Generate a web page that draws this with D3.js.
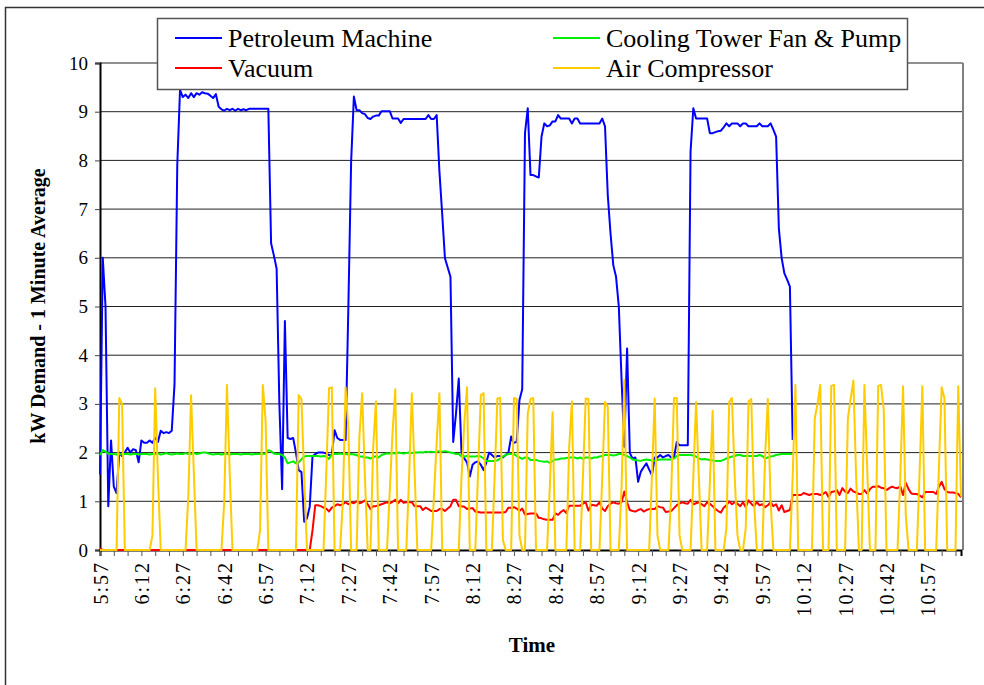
<!DOCTYPE html>
<html>
<head>
<meta charset="utf-8">
<script src="https://cdn.jsdelivr.net/npm/d3@7"></script>
<style>
body{margin:0;background:#fff}
svg{display:block}
</style>
</head>
<body>
<svg id="chart" width="984" height="685"></svg>
<script>
// x tick labels, one every 15 minutes (every 15th sample)
const tickLabels = ["5:57","6:12","6:27","6:42","6:57","7:12","7:27","7:42","7:57","8:12","8:27",
  "8:42","8:57","9:12","9:27","9:42","9:57","10:12","10:27","10:42","10:57"]
const yTicks = [0,1,2,3,4,5,6,7,8,9,10]

// one value per minute from 5:57
const petroleum = [
  1.55,6.0,5.0,0.9,2.25,1.3,1.17,2.0,1.93,2.0,
  2.1,2.0,2.07,2.05,1.8,2.25,2.2,2.2,2.25,2.2,
  2.3,2.22,2.45,2.4,2.42,2.4,2.45,3.4,7.9,9.45,
  9.3,9.35,9.28,9.38,9.3,9.38,9.35,9.4,9.38,9.37,
  9.33,9.28,9.36,9.1,9.05,9.02,9.06,9.03,9.06,9.02,
  9.06,9.03,9.05,9.03,9.06,9.06,9.06,9.06,9.06,9.06,
  9.06,9.06,6.3,6.05,5.78,3.0,1.25,4.7,2.3,2.28,
  2.3,2.0,1.64,1.6,0.58,0.65,0.89,1.92,1.97,2.0,
  2.0,2.0,1.98,1.95,1.95,2.46,2.3,2.26,2.26,2.26,
  5.0,7.97,9.31,9.03,9.03,8.97,8.95,8.87,8.85,8.9,
  8.92,8.92,9.01,9.01,9.01,9.01,8.86,8.86,8.86,8.77,
  8.85,8.85,8.85,8.85,8.85,8.85,8.85,8.85,8.85,8.93,
  8.85,8.85,8.93,7.77,6.9,5.99,5.8,5.61,2.22,2.8,
  3.52,2.0,1.88,1.8,1.51,1.75,1.8,1.82,1.75,1.64,
  1.8,2.0,1.95,1.9,1.93,1.93,1.9,1.95,2.0,2.33,
  2.2,2.22,3.08,3.3,8.56,9.07,7.7,7.7,7.67,7.65,
  8.49,8.76,8.7,8.72,8.8,8.8,8.93,8.86,8.86,8.86,
  8.86,8.76,8.86,8.86,8.76,8.76,8.76,8.76,8.76,8.76,
  8.76,8.76,8.86,8.7,7.29,6.5,5.85,5.61,5.0,3.5,
  2.12,4.14,1.99,1.88,1.9,1.4,1.61,1.7,1.78,1.65,
  1.54,1.9,1.9,1.95,1.9,1.93,1.95,1.9,1.9,2.22,
  2.15,2.15,2.15,2.15,8.18,9.07,8.86,8.86,8.86,8.86,
  8.86,8.56,8.56,8.58,8.6,8.61,8.68,8.76,8.7,8.76,
  8.76,8.76,8.7,8.76,8.76,8.7,8.7,8.7,8.7,8.76,
  8.7,8.7,8.7,8.76,8.63,8.49,6.6,6.0,5.68,5.55,
  5.41,2.26]

const coolingTower = [
  1.95,2.05,2.02,1.98,1.97,1.97,1.96,1.97,1.96,1.97,
  1.97,1.96,1.97,1.97,1.96,1.97,1.97,1.97,1.96,1.97,
  1.97,1.98,1.96,1.97,1.99,1.97,1.96,1.97,1.98,1.97,
  1.97,1.99,1.97,1.97,1.99,1.97,1.98,2.0,2.0,1.99,
  1.97,1.96,1.97,1.97,1.96,1.97,1.97,1.96,1.97,1.97,
  1.97,1.96,1.97,1.97,1.97,1.96,1.97,1.97,1.97,1.98,
  1.97,2.05,2.03,1.98,1.97,1.97,1.95,1.9,1.78,1.8,
  1.82,1.78,1.8,1.86,1.92,1.93,1.93,1.93,1.93,1.93,
  1.92,1.93,1.92,1.87,1.97,1.97,1.97,1.98,1.97,1.97,
  1.96,1.97,1.96,1.95,1.92,1.92,1.9,1.9,1.88,1.9,
  1.93,1.9,1.95,1.97,1.98,1.98,1.99,1.98,2.0,1.99,
  1.98,1.99,2.0,1.99,2.0,2.0,2.01,2.0,2.02,2.01,
  2.02,2.01,2.02,2.03,2.02,2.03,2.02,2.0,1.99,1.97,
  1.97,1.92,1.92,1.93,1.92,1.92,1.92,1.93,1.92,1.88,
  1.83,1.83,1.83,1.83,1.84,1.88,1.92,1.95,1.97,1.97,
  1.97,1.93,1.9,1.87,1.9,1.9,1.85,1.85,1.85,1.83,
  1.82,1.81,1.82,1.79,1.83,1.86,1.86,1.88,1.88,1.89,
  1.9,1.9,1.9,1.88,1.9,1.87,1.9,1.9,1.88,1.9,
  1.9,1.92,1.93,1.95,1.95,1.95,1.94,1.95,1.97,1.97,
  1.95,1.93,1.9,1.86,1.85,1.84,1.83,1.85,1.86,1.85,
  1.84,1.83,1.85,1.86,1.86,1.86,1.86,1.86,1.88,1.93,
  1.95,1.95,1.95,1.95,1.95,1.94,1.92,1.88,1.86,1.87,
  1.86,1.85,1.84,1.83,1.83,1.83,1.85,1.88,1.9,1.92,
  1.93,1.95,1.95,1.93,1.93,1.93,1.93,1.93,1.93,1.95,
  1.93,1.88,1.9,1.92,1.93,1.95,1.96,1.97,1.97,1.97,
  1.97,1.97]

const vacuum = [
  0.03,0,0,0,0,0,0,0,0,0,
  0,0,0,0,0,0,0,0,0,0,
  0,0,0,0,0,0,0,0,0,0,
  0,0,0,0,0,0,0,0,0,0,
  0,0,0,0,0,0,0,0,0,0,
  0,0,0,0,0,0,0,0,0,0,
  0,0,0,0,0,0,0,0,0,0,
  0,0,0,0,0,0,0,0.4,0.92,0.92,
  0.9,0.87,0.85,0.79,0.87,0.9,0.94,0.92,0.94,0.98,
  0.94,0.98,0.96,1.0,0.96,0.98,1.02,0.94,0.84,0.9,
  0.9,0.92,0.94,0.96,0.98,0.96,0.99,1.03,0.96,1.03,
  0.97,0.98,0.98,0.98,0.9,0.9,0.9,0.82,0.87,0.84,
  0.8,0.8,0.8,0.84,0.84,0.8,0.85,0.9,1.03,1.03,
  0.9,0.9,0.89,0.84,0.85,0.86,0.79,0.78,0.77,0.77,
  0.77,0.77,0.77,0.77,0.77,0.77,0.77,0.78,0.87,0.87,
  0.88,0.85,0.8,0.85,0.73,0.74,0.75,0.75,0.75,0.66,
  0.65,0.63,0.62,0.62,0.62,0.75,0.72,0.78,0.82,0.76,
  0.91,0.91,0.91,0.91,0.91,0.95,0.98,0.81,0.93,0.92,
  0.91,0.98,0.85,0.8,0.9,0.95,0.98,0.96,0.95,0.98,
  1.2,0.98,0.82,0.8,0.79,0.82,0.84,0.79,0.82,0.84,
  0.84,0.84,0.9,0.88,0.87,0.78,0.79,0.8,0.86,0.92,
  0.95,0.98,0.96,0.95,1.03,0.94,0.96,0.98,0.94,0.9,
  0.98,0.95,0.9,0.84,0.8,0.77,0.87,0.92,1.0,0.94,
  0.98,0.95,0.9,0.98,0.88,1.02,0.95,0.9,0.98,0.92,
  0.94,0.88,0.92,0.98,0.9,0.94,0.81,0.92,0.78,0.8,
  0.82,1.13,1.13,1.13,1.13,1.17,1.15,1.13,1.15,1.15,
  1.15,1.13,1.15,1.19,1.09,1.19,1.2,1.23,1.13,1.27,
  1.2,1.17,1.26,1.2,1.18,1.15,1.15,1.23,1.16,1.25,
  1.3,1.3,1.31,1.28,1.27,1.23,1.27,1.3,1.28,1.27,
  1.31,1.13,1.38,1.25,1.16,1.15,1.15,1.12,1.08,1.19,
  1.19,1.19,1.19,1.15,1.3,1.4,1.25,1.19,1.18,1.18,
  1.17,1.15,1.08]

const airCompressor = [
  0,0,0,0,0,0,0,3.12,3.0,0,
  0,0,0,0,0,0,0,0,0,0.3,
  3.32,1.5,0,0,0,0,0,0,0,0,
  0,0,1.1,3.18,1.6,0,0,0,0,0,
  0,0,0,0,0,0.96,3.39,1.6,0,0,
  0,0,0,0,0,0,0,0,0.41,3.39,
  2.67,0,0,0,0,0,0,0,0,0,
  0,0,3.18,3.1,1.5,0,0,0,0,0,
  0,0,1.6,3.32,3.34,0,0,0,1.0,3.34,
  2.5,0,0,0,2.33,3.22,1.5,0,0,2.12,
  3.05,0,0,0,0,1.2,2.4,3.3,0,0,
  0,0,1.5,3.22,1.6,0,0,0,0,0,
  0,1.1,2.2,3.22,0,0,0,0,0,0,
  0,1.5,2.6,3.34,0,0,0,1.6,3.18,3.22,
  0,0,0,1.5,3.11,3.12,0.2,0,0,0,
  3.12,3.1,0.3,0,0,2.8,3.1,3.12,0,0,
  0,0,0,1.3,2.83,0,0,0,0,0,
  2.1,3.05,0,0,0,1.5,3.11,3.1,0,0,
  0,0,1.5,3.04,2.94,0,0,0,0,1.3,
  3.49,0,0,0,0,0,0,0,0,0,
  1.5,3.11,0.3,0,0,0,0,1.2,3.12,3.12,
  0.3,0,0,0,0,1.5,3.04,1.5,0,0,
  0,1.4,2.86,0,0,0,0,0.45,3.04,3.12,
  1.5,0.3,0,0,0.45,3.05,3.1,1.0,0,0,
  0,1.9,3.1,1.0,0,0,0,0,0,0,
  0,1.5,3.39,0,0,0,0,0,0,2.7,
  3.0,3.39,0,0,0,3.37,3.39,0,0,0,
  0,2.7,3.1,3.48,1.5,0,0,3.39,1.7,0,
  0,0,3.37,3.39,2.88,0,0,0,0,0,
  1.5,3.36,0.7,0,0,0,0,1.6,3.36,0,
  0,0,0,0,1.7,3.34,3.12,0,0,0,
  0,3.36,1.1]

const seriesNames = ["Petroleum Machine","Cooling Tower Fan & Pump","Vacuum","Air Compressor"]
const seriesColors = ["#0000ff","#00ee00","#ff0000","#ffcc00"]

const svg = d3.select("#chart")
const plot = {left: 100, right: 963, top: 63, bottom: 550}
const nPoints = airCompressor.length
const serif = "'Liberation Serif', 'Times New Roman', serif"

let x = d3.scaleLinear()//sample index -> px
    .domain([0, nPoints-1])
    .range([plot.left, 961])
let y = d3.scaleLinear()
    .domain([0, 10])
    .range([plot.bottom, plot.top])

// outer chart frame (runs off the right/bottom of the picture)
svg.append("rect")
    .attr("x", 5.5).attr("y", 7.5)
    .attr("width", 1000).attr("height", 700)
    .attr("fill", "#fff")
    .attr("stroke", "#333")
    .attr("stroke-width", 1.5)

// gridlines
svg.append("g")
  .selectAll("line")
  .data(yTicks.filter(d => d > 0))
  .join("line")
    .attr("x1", plot.left).attr("x2", plot.right)
    .attr("y1", d => y(d)).attr("y2", d => y(d))
    .attr("stroke", "#222")
    .attr("stroke-width", 1)

// right edge of plot area
svg.append("line")
    .attr("x1", plot.right).attr("x2", plot.right)
    .attr("y1", plot.top).attr("y2", plot.bottom)
    .attr("stroke", "#808080").attr("stroke-width", 2)

// y axis
let yAxis = d3.axisLeft(y).tickValues(yTicks).tickSize(5).tickPadding(7)
let gy = svg.append("g")
    .attr("transform", "translate(" + plot.left + ",0)")
    .call(yAxis)
gy.select(".domain").attr("stroke", "#000").attr("stroke-width", 2)
gy.selectAll(".tick line").attr("stroke", "#444")
gy.selectAll(".tick text")
    .attr("font-family", serif)
    .attr("font-size", "19px")
    .attr("fill", "#000")

// x axis: ticks every 5 min, labels every 15 min
let xAxis = d3.axisBottom(x)
    .tickValues(d3.range(0, nPoints, 5))
    .tickSize(6)
    .tickFormat(d => d % 15 === 0 ? tickLabels[d/15] : "")
let gx = svg.append("g")
    .attr("transform", "translate(0," + plot.bottom + ")")
    .call(xAxis)
gx.select(".domain").attr("stroke", "#000").attr("stroke-width", 2)
gx.selectAll(".tick line").attr("stroke", "#555")
gx.selectAll(".tick text")
    .attr("font-family", serif)
    .attr("font-size", "20px")
    .attr("letter-spacing", "2px")
    .attr("fill", "#000")
    .attr("text-anchor", "end")
    .attr("transform", "rotate(-90)")
    .attr("x", -11).attr("y", 0).attr("dy", "0.35em")

// series lines
const allSeries = [petroleum, coolingTower, vacuum, airCompressor]
let line = d3.line()
    .x((d, i) => x(i))
    .y(d => y(d))
allSeries.forEach((vals, k) => {
  svg.append("path")
      .datum(vals)
      .attr("fill", "none")
      .attr("stroke", seriesColors[k])
      .attr("stroke-width", 2)
      .attr("stroke-linejoin", "round")
      .attr("d", line)
})

// axis titles
svg.append("text")
    .attr("x", 532).attr("y", 652)
    .attr("text-anchor", "middle")
    .attr("font-family", serif)
    .attr("font-weight", "bold")
    .attr("font-size", "21px")
    .text("Time")
svg.append("text")
    .attr("transform", "translate(45,306) rotate(-90)")
    .attr("text-anchor", "middle")
    .attr("font-family", serif)
    .attr("font-weight", "bold")
    .attr("font-size", "20px")
    .text("kW Demand - 1 Minute Average")

// legend
let legend = svg.append("g")
legend.append("rect")
    .attr("x", 157.5).attr("y", 18.5)
    .attr("width", 750).attr("height", 71)
    .attr("fill", "#fff")
    .attr("stroke", "#555").attr("stroke-width", 1.5)
const legendPos = [[175, 38], [553, 38], [175, 68], [553, 68]]
seriesNames.forEach((name, k) => {
  let [lx, ly] = legendPos[k]
  legend.append("line")
      .attr("x1", lx).attr("x2", lx + 47)
      .attr("y1", ly).attr("y2", ly)
      .attr("stroke", seriesColors[k]).attr("stroke-width", 2)
  legend.append("text")
      .attr("x", lx + 53).attr("y", ly).attr("dy", "0.35em")
      .attr("font-family", serif)
      .attr("font-size", "26px")
      .text(name)
})
</script>
</body>
</html>
